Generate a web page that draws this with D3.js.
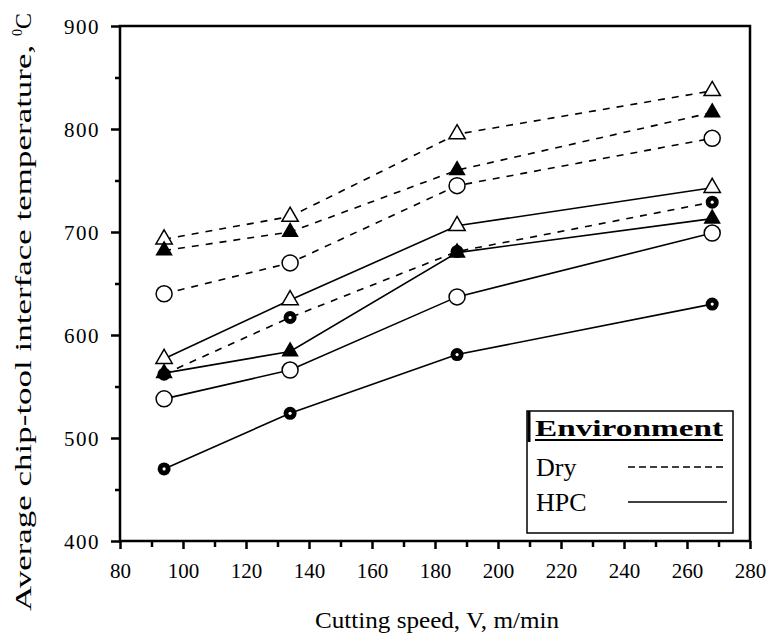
<!DOCTYPE html>
<html>
<head>
<meta charset="utf-8">
<script src="https://cdn.jsdelivr.net/npm/d3@7"></script>
<style>
  body { margin: 0; background: #fff; }
  text { font-family: "Liberation Serif", "Times New Roman", serif; fill: #000; }
</style>
</head>
<body>
<svg id="chart" width="770" height="641"></svg>
<script>
// cutting speeds (m/min)
const speeds = [94, 134, 187, 268]

// dry (dashed)
const dryOpenTri  = [693, 715, 795, 837]
const dryFillTri  = [682, 700, 760, 816]
const dryOpenCirc = [640, 670, 745, 791]
const dryFillCirc = [562, 617, 681, 729]

// HPC (solid)
const hpcOpenTri  = [577, 634, 706, 743]
const hpcFillTri  = [563, 584, 680, 713]
const hpcOpenCirc = [538, 566, 637, 699]
const hpcFillCirc = [470, 524, 581, 630]

const xTicks = [80, 100, 120, 140, 160, 180, 200, 220, 240, 260, 280]
const yTicks = [400, 500, 600, 700, 800, 900]
const legendLabels = ["Dry", "HPC"]

const series = [
  { vals: dryOpenTri,  shape: "tri",  filled: false, dashed: true },
  { vals: dryFillTri,  shape: "tri",  filled: true,  dashed: true },
  { vals: dryOpenCirc, shape: "circ", filled: false, dashed: true },
  { vals: dryFillCirc, shape: "circ", filled: true,  dashed: true },
  { vals: hpcOpenTri,  shape: "tri",  filled: false, dashed: false },
  { vals: hpcFillTri,  shape: "tri",  filled: true,  dashed: false },
  { vals: hpcOpenCirc, shape: "circ", filled: false, dashed: false },
  { vals: hpcFillCirc, shape: "circ", filled: true,  dashed: false }
]

const svg = d3.select("#chart")
const L = 120, R = 750, T = 26, B = 541

const x = d3.scaleLinear().domain([80, 280]).range([L, R])
const y = d3.scaleLinear().domain([400, 900]).range([B, T])

// minor ticks
const gxm = svg.append("g").attr("transform", `translate(0,${B})`)
  .call(d3.axisBottom(x).tickValues(d3.range(90, 280, 20)).tickSize(6).tickFormat("").tickSizeOuter(0))
const gym = svg.append("g").attr("transform", `translate(${L},0)`)
  .call(d3.axisLeft(y).tickValues(d3.range(450, 900, 100)).tickSize(5).tickFormat("").tickSizeOuter(0))

// major ticks
const gx = svg.append("g").attr("transform", `translate(0,${B})`)
  .call(d3.axisBottom(x).tickValues(xTicks).tickSize(8).tickSizeOuter(0).tickPadding(22))
const gy = svg.append("g").attr("transform", `translate(${L},0)`)
  .call(d3.axisLeft(y).tickValues(yTicks).tickSize(9).tickSizeOuter(0).tickPadding(11))

;[gxm, gym, gx, gy].forEach(g => {
  g.attr("font-family", null)
  g.select(".domain").remove()
  g.selectAll("line").attr("stroke", "#000").attr("stroke-width", 2.5)
})
gx.selectAll("text").style("font-size", "21px").attr("dy", "0.35em")
gy.selectAll("text").style("font-size", "21px").attr("letter-spacing", "1.5px").attr("dy", "0.35em")

// frame
svg.append("rect").attr("x", L).attr("y", T).attr("width", R - L).attr("height", B - T)
  .attr("fill", "none").attr("stroke", "#000").attr("stroke-width", 2.5)

// lines
const line = d3.line().x((d, i) => x(speeds[i])).y(d => y(d))
svg.append("g").selectAll("path")
  .data(series)
  .enter()
  .append("path")
  .attr("d", d => line(d.vals))
  .attr("fill", "none")
  .attr("stroke", "#000")
  .attr("stroke-width", 1.6)
  .attr("stroke-dasharray", d => d.dashed ? "7,7" : null)

// markers
const sym = d3.symbol()
series.forEach(s => {
  const g = svg.append("g")
  s.vals.forEach((v, i) => {
    const cx = x(speeds[i]), cy = y(v)
    if (s.shape === "tri") {
      g.append("path")
        .attr("transform", `translate(${cx},${cy})`)
        .attr("d", sym.type(d3.symbolTriangle).size(s.filled ? 95 : 115)())
        .attr("fill", s.filled ? "#000" : "#fff")
        .attr("stroke", "#000").attr("stroke-width", 1.5)
    } else if (s.filled) {
      g.append("circle").attr("cx", cx).attr("cy", cy).attr("r", 6.5)
        .attr("fill", "#000")
      g.append("circle").attr("cx", cx).attr("cy", cy).attr("r", 1.6)
        .attr("fill", "#fff")
    } else {
      g.append("circle").attr("cx", cx).attr("cy", cy).attr("r", 8)
        .attr("fill", "#fff").attr("stroke", "#000").attr("stroke-width", 1.5)
    }
  })
})

// legend
const lg = svg.append("g")
lg.append("rect").attr("x", 527).attr("y", 411).attr("width", 206).attr("height", 122)
  .attr("fill", "#fff").attr("stroke", "#000").attr("stroke-width", 1.5)
lg.append("line").attr("x1", 529).attr("x2", 529).attr("y1", 411).attr("y2", 442)
  .attr("stroke", "#000").attr("stroke-width", 3)
lg.append("text").attr("x", 535).attr("y", 436)
  .attr("textLength", 188).attr("lengthAdjust", "spacingAndGlyphs")
  .style("font-size", "24px").style("font-weight", "bold")
  .text("Environment")
lg.append("line").attr("x1", 535).attr("x2", 723).attr("y1", 440).attr("y2", 440)
  .attr("stroke", "#000").attr("stroke-width", 2)

legendLabels.forEach((lab, i) => {
  const yy = 467 + i * 35
  lg.append("text").attr("x", 536).attr("y", yy + 9)
    .style("font-size", "26px").text(lab)
  lg.append("line").attr("x1", 628).attr("x2", 727).attr("y1", yy).attr("y2", yy)
    .attr("stroke", "#000").attr("stroke-width", 1.5)
    .attr("stroke-dasharray", i === 0 ? "7,4" : null)
})

// axis titles
svg.append("text").attr("x", 437).attr("y", 628).attr("text-anchor", "middle")
  .attr("textLength", 244).attr("lengthAdjust", "spacingAndGlyphs")
  .style("font-size", "24px").text("Cutting speed, V, m/min")

const yt = svg.append("text")
  .attr("transform", "translate(31,312) rotate(-90)")
  .attr("text-anchor", "middle")
  .style("font-size", "24px")
yt.append("tspan").attr("textLength", 575).attr("lengthAdjust", "spacingAndGlyphs")
  .text("Average chip-tool interface temperature, ")
yt.append("tspan").attr("dy", "-9").style("font-size", "14px").text("0")
yt.append("tspan").attr("dy", "9").text("C")
</script>
</body>
</html>
